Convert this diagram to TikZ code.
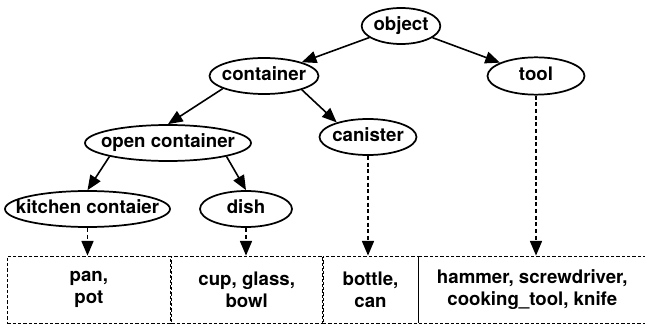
\documentclass[tikz,border=0pt]{standalone}
\usepackage{fontspec}
\setmainfont{TeX Gyre Heros}
\usetikzlibrary{shapes.geometric,arrows.meta}

\begin{document}
\begin{tikzpicture} [x=0.75pt,y=-0.75pt,
  font=\fontsize{14}{16.5}\selectfont\bfseries,
  categ/.style=
  {ellipse,draw,line width=1.3pt,inner sep=0pt,minimum height=27pt,
    text height=10pt,text depth=3pt,
    execute at begin node={\hbox to 0pt\bgroup\hss},
    execute at end node={\hss\egroup}},
  liste/.style=
  {rectangle,draw,dash pattern=on 2.5pt off 1.5pt,line width=0.6pt,
    minimum height=50.25pt,inner sep=0pt,align=center,anchor=west},
  fleche/.style={-{Triangle[length=11pt,width=9pt]},line width=1.2pt},
  renvoi/.style={fleche,dash pattern=on 3pt off 2pt}]
\useasboundingbox (0,0) rectangle (645,327);
\node [categ,minimum width=59pt] (object) at (401,26) {object};
\node [categ,minimum width=81.75pt] (container) at (264,76) {container};
\node [categ,minimum width=72.75pt,minimum height=28pt] (tool) at (536,76) {tool};
\node [categ,minimum width=124.5pt] (opencont) at (168,143) {open container};
\node [categ,minimum width=72.75pt] (canister) at (368,137) {canister};
\node [categ,minimum width=123.75pt] (kitchen) at (87.5,209) {kitchen contaier};
\node [categ,minimum width=69pt] (dish) at (246,209) {dish};
\node [liste,minimum width=122.25pt] (pan) at (7,289.5) {pan,\\pot};
\node [liste,minimum width=113.25pt] (cup) at (pan.east) {cup, glass,\\bowl};
\node [liste,minimum width=71.25pt] (bottle) at (cup.east) {bottle,\\can};
\node [liste,minimum width=170.25pt] (hammer) at (bottle.east) {hammer, screwdriver,\\cooking\_tool, knife};
\draw [fleche] (object) -- (container);
\draw [fleche] (object) -- (tool);
\draw [fleche] (container.197) -- (opencont.north);
\draw [fleche] (container.340) -- (canister.155);
\draw [fleche] (opencont.193) -- (kitchen.north);
\draw [fleche] (opencont.347) -- (dish.north);
\draw [renvoi] (kitchen.south) -- (kitchen.south |- pan.north);
\draw [renvoi] (dish.south) -- (dish.south |- cup.north);
\draw [renvoi] (canister.south) -- (canister.south |- bottle.north);
\draw [renvoi] (tool.south) -- (tool.south |- hammer.north);

\end{tikzpicture}
\end{document}
